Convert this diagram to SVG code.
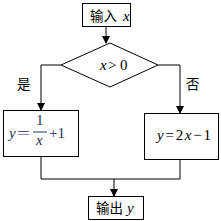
<svg xmlns="http://www.w3.org/2000/svg" width="221" height="221" viewBox="0 0 221 221">
<style>
.box{fill:#fff;stroke:#000;stroke-width:1}
.ln{fill:none;stroke:#000;stroke-width:1}
.cjk{font-family:"Noto Sans CJK SC","Liberation Serif",serif;font-size:13.5px;fill:#000}
.m{font-family:"Liberation Serif","Times New Roman",serif;font-size:15px;fill:#000}
.i{font-style:italic}
.blue{fill:#1f3060}
</style>
<defs>
<marker id="ah" markerWidth="8" markerHeight="8" refX="7" refY="4" orient="auto" markerUnits="userSpaceOnUse">
<path d="M0,0 L8,4 L0,8 Z" fill="#000"/>
</marker>
</defs>
<rect width="221" height="221" fill="#fff"/>
<g id="connectors">
<line class="ln" x1="106" y1="26" x2="106" y2="43" marker-end="url(#ah)"/>
<polyline class="ln" points="61,65 41,65 41,110" marker-end="url(#ah)"/>
<polyline class="ln" points="158,65 180,65 180,113" marker-end="url(#ah)"/>
<polyline class="ln" points="41,156 41,179 180,179 180,159"/>
<line class="ln" x1="114" y1="179" x2="114" y2="196" marker-end="url(#ah)"/>
<text class="cjk" x="17" y="89" font-size="15">是</text>
<text class="cjk" x="186" y="89" font-size="15">否</text>
</g>
<g id="input">
<rect class="box" x="82.5" y="3.5" width="48" height="23"/>
<text class="cjk" x="90" y="21">输入</text>
<text class="m i" x="123" y="21">x</text>
</g>
<g id="decision">
<polygon class="box" points="61,65 110,43 158,65 110,87"/>
<text class="m i" x="100" y="70">x</text>
<text class="m" x="108" y="70">&gt;</text>
<text class="m" x="120" y="70">0</text>
</g>
<g id="yes-box">
<rect class="box" x="3.5" y="110.5" width="75" height="46"/>
<text class="m blue i" x="9" y="138">y</text>
<text class="m blue" x="17" y="138" textLength="13" lengthAdjust="spacingAndGlyphs">=</text>
<text class="m blue" x="36" y="125">1</text>
<line x1="33" y1="132" x2="47" y2="132" stroke="#1f3060" stroke-width="1"/>
<text class="m blue i" x="36" y="145">x</text>
<text class="m blue" x="49" y="138">+1</text>
</g>
<g id="no-box">
<rect class="box" x="144.5" y="113.5" width="74" height="46"/>
<text class="m" x="157" y="140" textLength="54" lengthAdjust="spacing"><tspan class="i">y</tspan>=2<tspan class="i">x</tspan>−1</text>
</g>
<g id="output">
<rect class="box" x="88.5" y="196.5" width="55" height="23"/>
<text class="cjk" x="96" y="213">输出</text>
<text class="m i" x="127" y="213">y</text>
</g>
</svg>
